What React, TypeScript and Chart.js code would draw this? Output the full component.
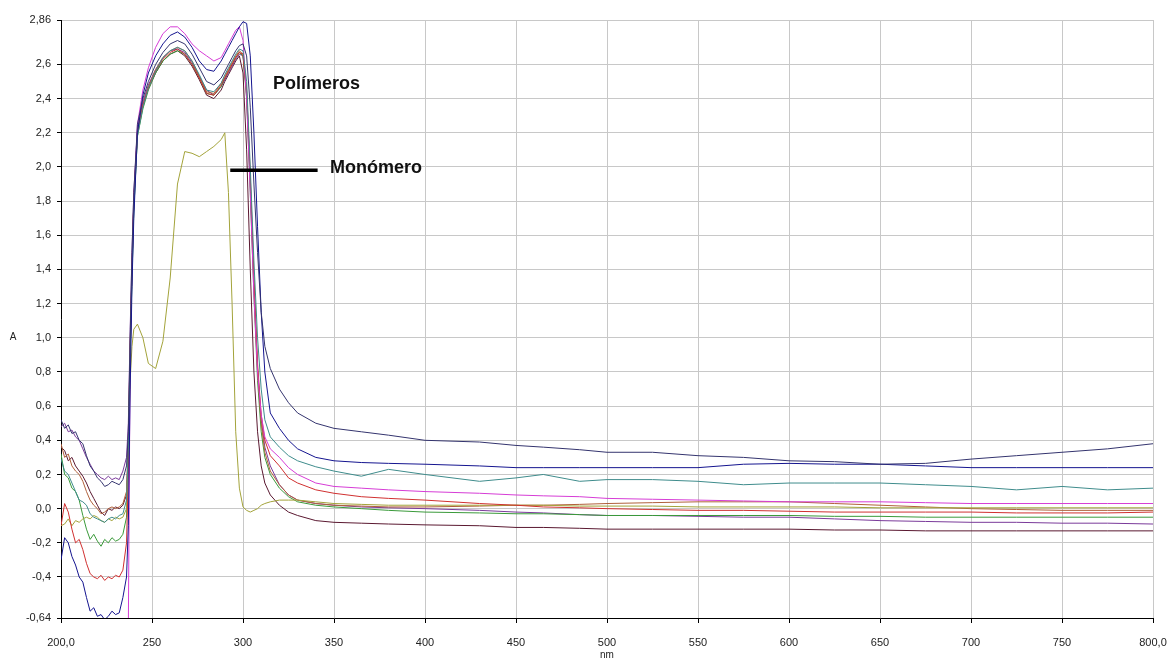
import React, { useEffect, useRef } from "react";
import { Chart, registerables } from "chart.js";

Chart.register(...registerables);

// ---------- DATA ----------
const WAVELENGTHS = [
  200, 202, 204, 206, 208, 210, 212, 214, 216, 218, 220, 222, 224, 226, 228, 230, 232, 234, 236,
  237, 238, 239, 240,
  242, 245, 248, 252, 256, 260, 264, 268, 272, 276, 280, 284, 288,
  290, 292, 294, 296, 298, 300, 302, 304, 306, 308, 310, 312,
  315, 320, 325, 330, 340, 350, 365, 380, 400,
  430, 450, 465, 485, 500,
  525, 550, 575, 600, 625, 650, 675, 700, 725, 750, 775, 800,
];

const NAVY = [
  0.52, 0.47, 0.49, 0.44, 0.45, 0.4, 0.38, 0.31, 0.25, 0.22, 0.18, 0.16, 0.13, 0.14, 0.16, 0.15, 0.14, 0.17, 0.25,
  0.45, 1.0, 1.5, 1.85,
  2.25, 2.4, 2.5, 2.6, 2.67, 2.72, 2.74, 2.72, 2.66, 2.58, 2.5, 2.48, 2.52,
  2.56, 2.6, 2.64, 2.68, 2.71, 2.72, 2.65, 2.35, 1.9, 1.5, 1.15, 0.95,
  0.82, 0.7, 0.62, 0.56, 0.5, 0.47, 0.45, 0.43, 0.4,
  0.39, 0.37, 0.36, 0.345, 0.33,
  0.33, 0.31, 0.3, 0.28, 0.275, 0.26, 0.265, 0.29, 0.31, 0.33, 0.35, 0.38,
];

const BLUE = [
  -0.3, -0.17, -0.2, -0.28, -0.33, -0.4, -0.43, -0.52, -0.6, -0.58, -0.63, -0.62, -0.65, -0.63, -0.6, -0.62, -0.61, -0.52, -0.4,
  -0.1, 0.7, 1.3, 1.7,
  2.2, 2.42, 2.55, 2.65, 2.72, 2.77, 2.79, 2.76, 2.7, 2.62, 2.57, 2.56, 2.62,
  2.66, 2.7, 2.74, 2.78, 2.82, 2.85, 2.84, 2.65, 2.2, 1.65, 1.15, 0.8,
  0.56, 0.47, 0.4, 0.35, 0.3, 0.28, 0.27, 0.265, 0.26,
  0.25, 0.24, 0.24, 0.24, 0.24,
  0.24, 0.24, 0.26, 0.265, 0.26, 0.26, 0.25, 0.24, 0.24, 0.24, 0.24, 0.24,
];

const TEAL = [
  0.29, 0.22, 0.2, 0.15, 0.1, 0.05, 0.04, 0.02, -0.03, -0.05, -0.06, -0.07, -0.08, -0.06, -0.05, -0.06, -0.04, -0.03, 0.05,
  0.35, 0.9, 1.35, 1.75,
  2.18, 2.35, 2.46, 2.56, 2.64, 2.68, 2.7, 2.68, 2.62, 2.54, 2.45, 2.44, 2.49,
  2.54, 2.58, 2.62, 2.66, 2.69, 2.68, 2.5, 2.0, 1.45, 1.0, 0.7, 0.52,
  0.42, 0.36, 0.31, 0.28, 0.245, 0.22, 0.19, 0.23, 0.2,
  0.16, 0.18, 0.2, 0.16, 0.17,
  0.17, 0.16, 0.14, 0.15, 0.15, 0.15, 0.14, 0.13, 0.11, 0.13, 0.11, 0.12,
];

const MAGENTA = [
  -0.85, -0.86, -0.85, -0.87, -0.86, -0.85, -0.86, -0.87, -0.86, -0.85, -0.86, -0.87, -0.86, -0.85, -0.86, -0.87, -0.86, -0.85, -0.86,
  -0.7, 0.9, 1.4, 1.8,
  2.25, 2.45, 2.58, 2.7, 2.78, 2.82, 2.82, 2.78, 2.72, 2.68, 2.65, 2.62, 2.64,
  2.68, 2.72, 2.76, 2.8, 2.82, 2.74, 2.4, 1.85, 1.25, 0.8, 0.55, 0.42,
  0.35, 0.3, 0.24, 0.2, 0.15, 0.13, 0.12, 0.11, 0.1,
  0.09, 0.08, 0.075, 0.07, 0.06,
  0.055, 0.05, 0.045, 0.04, 0.04, 0.04, 0.035, 0.03, 0.03, 0.03, 0.03, 0.03,
];

const RED = [
  -0.1, 0.03, -0.02, -0.12, -0.2, -0.18, -0.24, -0.32, -0.38, -0.4, -0.41, -0.39, -0.42, -0.4, -0.41, -0.39, -0.4, -0.36, -0.2,
  0.2, 0.9, 1.4, 1.8,
  2.2, 2.36, 2.46, 2.56, 2.63, 2.67, 2.69, 2.66, 2.6, 2.52, 2.43, 2.42, 2.48,
  2.52, 2.56, 2.6, 2.64, 2.67, 2.66, 2.45, 1.95, 1.35, 0.85, 0.55, 0.4,
  0.31, 0.25, 0.18, 0.15, 0.11, 0.09, 0.07, 0.06, 0.05,
  0.03, 0.02, 0.01, 0.005, 0.0,
  -0.005, -0.01, -0.01, -0.015, -0.02, -0.02, -0.02, -0.02, -0.025, -0.025, -0.025, -0.02,
];

const MONOMER = [
  -0.1, -0.09, -0.06, -0.1, -0.07, -0.08, -0.06, -0.05, -0.06, -0.04, -0.05, -0.07, -0.08, -0.06, -0.07, -0.05, -0.06, -0.05, 0.0,
  0.3, 0.75, 0.95, 1.05,
  1.08, 1.0, 0.85, 0.82, 0.98, 1.35, 1.9, 2.09, 2.08, 2.06, 2.09, 2.12, 2.16,
  2.2, 1.85, 1.2, 0.45, 0.12, 0.01, -0.01, -0.02, -0.01, 0.0, 0.02, 0.03,
  0.04, 0.05, 0.05, 0.05, 0.04, 0.03, 0.025, 0.02, 0.02,
  0.02, 0.02, 0.02, 0.015, 0.015,
  0.015, 0.01, 0.01, 0.01, 0.01, 0.005, 0.005, 0.005, 0.005, 0.005, 0.005, 0.005,
];

const BROWN = [
  0.38, 0.3, 0.32, 0.25, 0.22, 0.2, 0.16, 0.1, 0.05, 0.02, 0.0, -0.03, -0.02, 0.0, 0.01, 0.0, 0.01, 0.03, 0.1,
  0.4, 0.95, 1.4, 1.8,
  2.2, 2.36, 2.47, 2.57, 2.64, 2.68, 2.7, 2.68, 2.62, 2.53, 2.44, 2.43, 2.49,
  2.53, 2.57, 2.61, 2.65, 2.68, 2.66, 2.42, 1.9, 1.3, 0.8, 0.5, 0.33,
  0.22, 0.14, 0.08, 0.05, 0.03, 0.02, 0.015, 0.01, 0.01,
  0.015, 0.02, 0.02, 0.025, 0.03,
  0.035, 0.04, 0.04, 0.04, 0.03, 0.02, 0.01, 0.0, -0.005, -0.01, -0.01, -0.01,
];

const GREEN = [
  0.32, 0.2, 0.18, 0.12, 0.1, 0.05, -0.04, -0.12, -0.18, -0.15, -0.19, -0.22, -0.18, -0.2, -0.17, -0.19, -0.18, -0.15, -0.05,
  0.3, 0.9, 1.35, 1.75,
  2.18, 2.34, 2.45, 2.55, 2.62, 2.66, 2.68, 2.66, 2.6, 2.52, 2.43, 2.42, 2.47,
  2.52, 2.56, 2.6, 2.64, 2.67, 2.65, 2.4, 1.85, 1.25, 0.75, 0.45, 0.3,
  0.2, 0.12, 0.07, 0.04, 0.02, 0.01, 0.0, -0.01, -0.02,
  -0.025, -0.03, -0.03, -0.035, -0.04,
  -0.04, -0.04, -0.04, -0.04, -0.045, -0.045, -0.05, -0.05, -0.05, -0.05, -0.05, -0.05,
];

const PURPLE = [
  0.48, 0.5, 0.45, 0.46, 0.42, 0.4, 0.35, 0.3, 0.26, 0.22, 0.2, 0.18, 0.17, 0.19, 0.17, 0.18, 0.17, 0.22, 0.3,
  0.5, 1.05, 1.5, 1.85,
  2.22, 2.38, 2.48, 2.57, 2.64, 2.68, 2.69, 2.67, 2.61, 2.53, 2.45, 2.42, 2.47,
  2.51, 2.55, 2.59, 2.63, 2.66, 2.65, 2.44, 1.92, 1.32, 0.82, 0.52, 0.36,
  0.25, 0.14, 0.08, 0.05, 0.03, 0.02, 0.01, 0.005, 0.0,
  -0.01, -0.02, -0.025, -0.035, -0.04,
  -0.04, -0.045, -0.05, -0.05, -0.06, -0.07, -0.075, -0.08, -0.08, -0.085, -0.085, -0.09,
];

const MAROON = [
  0.36, 0.34, 0.28, 0.3, 0.25, 0.22, 0.19, 0.15, 0.1, 0.06, 0.02, -0.02, -0.04, 0.0, -0.01, 0.01, 0.0, 0.02, 0.08,
  0.38, 0.95, 1.4, 1.8,
  2.2, 2.36, 2.46, 2.55, 2.62, 2.66, 2.68, 2.65, 2.59, 2.51, 2.42, 2.4, 2.45,
  2.5, 2.54, 2.58, 2.62, 2.65, 2.55, 2.1, 1.4, 0.8, 0.45, 0.25, 0.15,
  0.08, 0.02, -0.02, -0.04, -0.07, -0.08, -0.085, -0.09, -0.095,
  -0.1, -0.11, -0.11, -0.115, -0.12,
  -0.12, -0.12, -0.12, -0.12, -0.125, -0.125, -0.13, -0.13, -0.13, -0.13, -0.13, -0.13,
];

const SERIES_NAMES = ["Navy", "Blue", "Teal", "Magenta", "Red", "Monómero", "Brown", "Green", "Purple", "Maroon"];
const SERIES_VALUES = [NAVY, BLUE, TEAL, MAGENTA, RED, MONOMER, BROWN, GREEN, PURPLE, MAROON];
const SERIES_COLORS = ["#34346e", "#14148f", "#3f8c8c", "#d63cd6", "#d03030", "#a3a33a", "#b0603a", "#3a9a3a", "#7a3a9a", "#5a1830"];

const X_TICKS = [200, 250, 300, 350, 400, 450, 500, 550, 600, 650, 700, 750, 800];
const X_TICK_LABELS = ["200,0", "250", "300", "350", "400", "450", "500", "550", "600", "650", "700", "750", "800,0"];
const Y_TICKS = [2.86, 2.6, 2.4, 2.2, 2.0, 1.8, 1.6, 1.4, 1.2, 1.0, 0.8, 0.6, 0.4, 0.2, 0.0, -0.2, -0.4, -0.64];
const Y_TICK_LABELS = ["2,86", "2,6", "2,4", "2,2", "2,0", "1,8", "1,6", "1,4", "1,2", "1,0", "0,8", "0,6", "0,4", "0,2", "0,0", "-0,2", "-0,4", "-0,64"];

// annotations (data coordinates)
const LABEL_POLYMERS = { text: "Polímeros", x: 316.5, y: 2.456 };
const LABEL_MONOMER = { text: "Monómero", x: 347.8, y: 1.965 };
const MONOMER_POINTER = { x1: 293, x2: 341, y: 1.98 };

const FONT = "'Liberation Sans', Arial, sans-serif";

const findLabel = (ticks: number[], labels: string[], v: number) => {
  const i = ticks.findIndex((t) => Math.abs(t - v) < 1e-6);
  return i >= 0 ? labels[i] : "";
};

const annotationPlugin = {
  id: "annotations",
  afterDatasetsDraw(chart: any) {
    const { ctx, scales, chartArea } = chart;
    const xs = scales.x;
    const ys = scales.y;
    ctx.save();
    ctx.strokeStyle = "#000";
    ctx.lineWidth = 3.5;
    ctx.beginPath();
    const py = ys.getPixelForValue(MONOMER_POINTER.y);
    ctx.moveTo(xs.getPixelForValue(MONOMER_POINTER.x1), py);
    ctx.lineTo(xs.getPixelForValue(MONOMER_POINTER.x2), py);
    ctx.stroke();
    ctx.fillStyle = "#111";
    ctx.font = `bold 18px ${FONT}`;
    ctx.textAlign = "left";
    ctx.textBaseline = "alphabetic";
    ctx.fillText(LABEL_POLYMERS.text, xs.getPixelForValue(LABEL_POLYMERS.x), ys.getPixelForValue(LABEL_POLYMERS.y));
    ctx.fillText(LABEL_MONOMER.text, xs.getPixelForValue(LABEL_MONOMER.x), ys.getPixelForValue(LABEL_MONOMER.y));
    ctx.font = `10px ${FONT}`;
    ctx.fillStyle = "#222";
    ctx.textAlign = "center";
    ctx.textBaseline = "middle";
    ctx.fillText("A", 13, 337);
    ctx.textBaseline = "top";
    ctx.fillText("nm", (chartArea.left + chartArea.right) / 2, chartArea.bottom + 32);
    ctx.restore();
  },
};

export default function App() {
  const canvasRef = useRef<HTMLCanvasElement | null>(null);

  useEffect(() => {
    if (!canvasRef.current) return;
    const datasets = SERIES_VALUES.map((vals, si) => ({
      label: SERIES_NAMES[si],
      data: WAVELENGTHS.map((x, i) => ({ x, y: vals[i] })),
      borderColor: SERIES_COLORS[si],
      backgroundColor: SERIES_COLORS[si],
      borderWidth: 1,
      pointRadius: 0,
      tension: 0,
      fill: false,
    }));

    const chart = new Chart(canvasRef.current, {
      type: "line",
      data: { datasets },
      options: {
        animation: false,
        responsive: false,
        maintainAspectRatio: false,
        events: [],
        layout: { padding: { top: 20, right: 19, left: 0, bottom: 0 } },
        plugins: { legend: { display: false }, tooltip: { enabled: false }, title: { display: false } },
        scales: {
          x: {
            type: "linear",
            min: 200,
            max: 800,
            afterBuildTicks: (scale: any) => {
              scale.ticks = X_TICKS.map((v) => ({ value: v }));
            },
            afterFit: (scale: any) => {
              scale.height = 40;
              scale.paddingLeft = 0;
              scale.paddingRight = 0;
            },
            ticks: {
              autoSkip: false,
              maxRotation: 0,
              padding: 13,
              color: "#222",
              font: { family: FONT, size: 11 },
              callback: (v: any) => findLabel(X_TICKS, X_TICK_LABELS, Number(v)),
            },
            grid: { color: "#c8c8c8", lineWidth: 1, drawTicks: true, tickLength: 5, tickColor: "#000" },
            border: { display: true, color: "#000", width: 1 },
          },
          y: {
            type: "linear",
            min: -0.64,
            max: 2.86,
            afterBuildTicks: (scale: any) => {
              scale.ticks = Y_TICKS.map((v) => ({ value: v }));
            },
            afterFit: (scale: any) => {
              scale.width = 61;
              scale.paddingTop = 0;
              scale.paddingBottom = 0;
            },
            ticks: {
              autoSkip: false,
              padding: 6,
              color: "#222",
              font: { family: FONT, size: 11 },
              callback: (v: any) => findLabel(Y_TICKS, Y_TICK_LABELS, Number(v)),
            },
            grid: { color: "#c8c8c8", lineWidth: 1, drawTicks: true, tickLength: 4, tickColor: "#000" },
            border: { display: true, color: "#000", width: 1 },
          },
        },
      },
      plugins: [annotationPlugin],
    } as any);

    return () => chart.destroy();
  }, []);

  return (
    <div style={{ position: "absolute", left: 0, top: 0, width: 1172, height: 658, background: "#fff" }}>
      <canvas ref={canvasRef} width={1172} height={658} style={{ display: "block", width: 1172, height: 658 }} />
    </div>
  );
}
